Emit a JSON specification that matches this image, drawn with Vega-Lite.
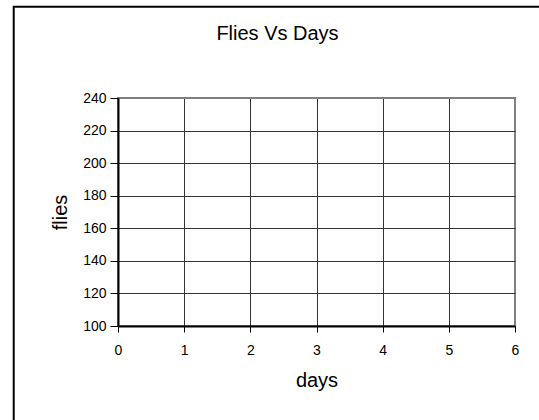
{
  "$schema": "https://vega.github.io/schema/vega-lite/v6.json",
  "width": 397,
  "height": 228,
  "autosize": {"type": "none"},
  "padding": {"left": 118, "top": 98, "right": 24, "bottom": 94},
  "background": "white",
  "title": {
    "text": "Flies Vs Days",
    "font": "Liberation Sans",
    "fontSize": 20,
    "fontWeight": "normal",
    "color": "black",
    "anchor": "middle",
    "frame": "group",
    "dx": -39,
    "offset": -38
  },
  "config": {
    "view": {"stroke": "#808080", "strokeWidth": 2},
    "axis": {
      "labelFont": "Liberation Sans",
      "labelFontSize": 14,
      "labelColor": "black",
      "labelOverlap": false,
      "format": "d",
      "titleFont": "Liberation Sans",
      "titleFontSize": 20,
      "titleFontWeight": "normal",
      "titleColor": "black",
      "domainColor": "black",
      "domainWidth": 2,
      "tickColor": "black",
      "tickWidth": 1,
      "gridWidth": 1
    }
  },
  "data": {"values": []},
  "layer": [
    {
      "mark": {"type": "point"},
      "encoding": {
        "x": {
          "field": "days",
          "type": "quantitative",
          "scale": {"domain": [0, 6], "nice": false, "zero": false},
          "axis": {
            "title": "days",
            "values": [0, 1, 2, 3, 4, 5, 6],
            "format": "d",
            "grid": true,
            "gridColor": {"condition": {"test": "datum.value === 6", "value": "#808080"}, "value": "#333333"},
            "tickSize": 6,
            "labelPadding": 11,
            "titlePadding": 13,
            "labelFlush": false,
            "labelOverlap": false
          }
        },
        "y": {
          "field": "flies",
          "type": "quantitative",
          "scale": {"domain": [100, 240], "nice": false, "zero": false},
          "axis": {
            "title": "flies",
            "values": [100, 120, 140, 160, 180, 200, 220, 240],
            "format": "d",
            "grid": true,
            "gridColor": {"condition": {"test": "datum.value === 240", "value": "#808080"}, "value": "#333333"},
            "tickSize": 8,
            "labelPadding": 4,
            "titlePadding": 12,
            "labelFlush": false,
            "labelOverlap": false
          }
        }
      }
    },
    {
      "data": {"values": [{}]},
      "mark": {"type": "rect", "fill": null, "fillOpacity": 0, "stroke": "black", "strokeWidth": 2, "clip": false},
      "encoding": {
        "x": {
          "datum": -1.576,
          "type": "quantitative",
          "scale": {"domain": [0, 6], "nice": false, "zero": false},
          "axis": {
            "title": "days",
            "values": [0, 1, 2, 3, 4, 5, 6],
            "format": "d",
            "grid": true,
            "gridColor": {"condition": {"test": "datum.value === 6", "value": "#808080"}, "value": "#333333"},
            "tickSize": 6,
            "labelPadding": 11,
            "titlePadding": 13,
            "labelFlush": false,
            "labelOverlap": false
          }
        },
        "x2": {"datum": 8},
        "y": {
          "datum": 296,
          "type": "quantitative",
          "scale": {"domain": [100, 240], "nice": false, "zero": false},
          "axis": {
            "title": "flies",
            "values": [100, 120, 140, 160, 180, 200, 220, 240],
            "format": "d",
            "grid": true,
            "gridColor": {"condition": {"test": "datum.value === 240", "value": "#808080"}, "value": "#333333"},
            "tickSize": 8,
            "labelPadding": 4,
            "titlePadding": 12,
            "labelFlush": false,
            "labelOverlap": false
          }
        },
        "y2": {"datum": 20}
      }
    }
  ]
}
